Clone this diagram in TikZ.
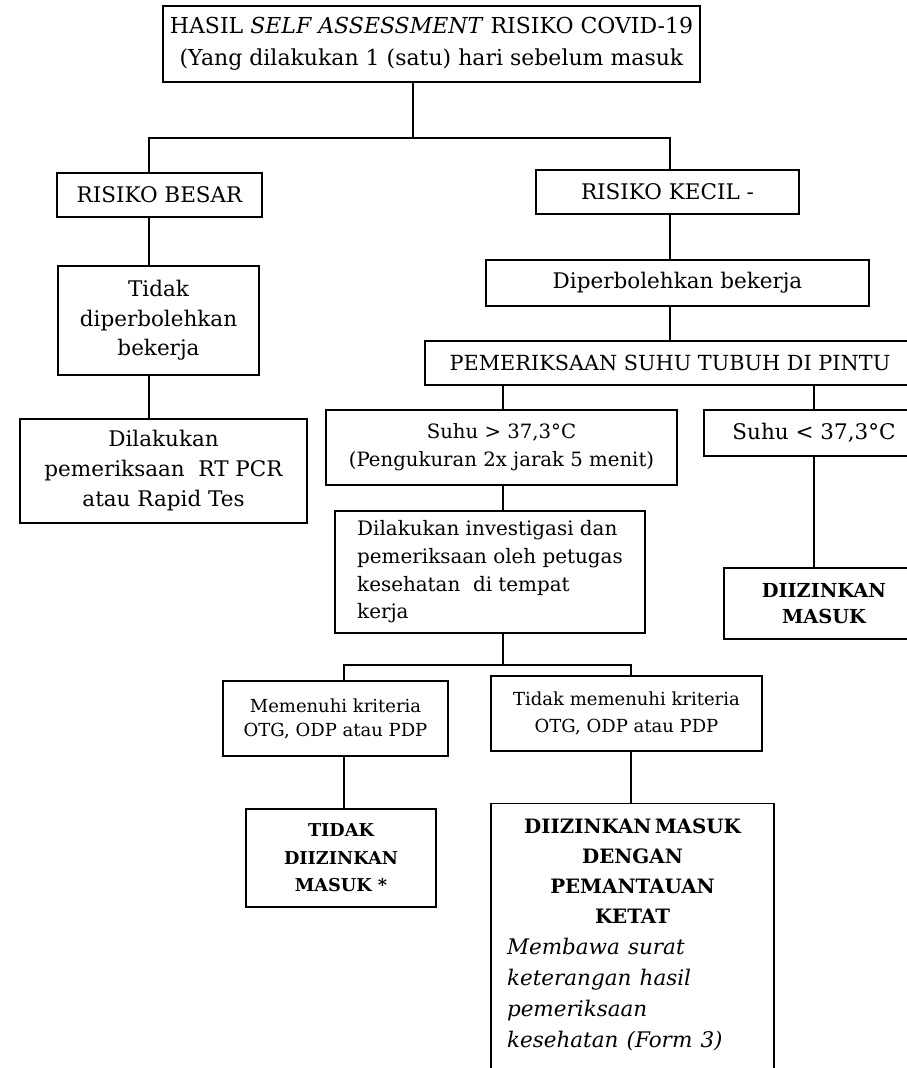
\documentclass[tikz,border=0pt]{standalone}
\usepackage{fontspec}
\setmainfont{DejaVu Serif}

\begin{document}
\begin{tikzpicture}[x=1pt, y=-1pt,
        box/.style={draw, line width=1.4pt, inner sep=0pt, align=center},
        link/.style={line width=1.3pt},
        bigtext/.style={font=\fontsize{21.5}{30}\selectfont},
        midtext/.style={font=\fontsize{19.7}{28}\selectfont},
        smalltext/.style={font=\fontsize{18}{24}\selectfont},
        boldtext/.style={font=\fontsize{17.7}{27.5}\selectfont\bfseries}
    ]

    \path[use as bounding box, clip] (0,0) rectangle (907,1068) ;

    % top of the tree
    \node[box, font=\fontsize{22}{32}\selectfont, minimum width=537pt, minimum height=76pt] (hasil) at (431.5,44)
        {HASIL \textit{SELF ASSESSMENT} RISIKO COVID-19\\(Yang dilakukan 1 (satu) hari sebelum masuk} ;
    \node[box, bigtext, minimum width=205pt, minimum height=44pt] (besar) at (159.5,195) {RISIKO BESAR} ;
    \node[box, bigtext, minimum width=263pt, minimum height=44pt] (kecil) at (667.5,192) {RISIKO KECIL -} ;

    % left branch
    \node[box, font=\fontsize{21.5}{29.5}\selectfont, minimum width=201pt, minimum height=109pt] (tidakkerja) at (158.5,320.5)
        {Tidak\\diperbolehkan\\bekerja} ;
    \node[box, bigtext, minimum width=287pt, minimum height=104pt] (rapid) at (163.5,471)
        {Dilakukan\\pemeriksaan\ \ RT PCR\\atau Rapid Tes} ;

    % right branch
    \node[box, bigtext, minimum width=383pt, minimum height=46pt] (boleh) at (677.5,283) {Diperbolehkan bekerja} ;
    \node[box, font=\fontsize{20.8}{30}\selectfont, minimum width=490pt, minimum height=44pt] (pintu) at (670,363) {PEMERIKSAAN SUHU TUBUH DI PINTU} ;
    \node[box, midtext, minimum width=351pt, minimum height=75pt] (suhutinggi) at (501.5,447.5)
        {Suhu > 37,3°C\\(Pengukuran 2x jarak 5 menit)} ;
    \node[box, bigtext, minimum width=220pt, minimum height=46pt] (suhurendah) at (814,433) {Suhu < 37,3°C} ;
    \node[box, font=\fontsize{19.9}{27.7}\selectfont, align=left, minimum width=310pt, minimum height=122pt] (investigasi) at (490,572)
        {Dilakukan investigasi dan\\pemeriksaan oleh petugas\\kesehatan\ \ di tempat\\kerja} ;
    \node[box, font=\fontsize{19.3}{26}\selectfont\bfseries, minimum width=200pt, minimum height=71pt] (masuk) at (824,603.5)
        {DIIZINKAN\\MASUK} ;
    \node[box, smalltext, minimum width=225pt, minimum height=75pt] (memenuhi) at (335.5,718.5)
        {Memenuhi kriteria\\OTG, ODP atau PDP} ;
    \node[box, font=\fontsize{18}{27}\selectfont, minimum width=271pt, minimum height=75pt] (tidakmemenuhi) at (626.5,713.5)
        {Tidak memenuhi kriteria\\OTG, ODP atau PDP} ;
    \node[box, boldtext, minimum width=190pt, minimum height=98pt] (tolak) at (341,858)
        {TIDAK\\DIIZINKAN\\MASUK *} ;
    \node[box, anchor=north, align=left, text width=251pt, inner xsep=16pt, inner ysep=15pt, minimum width=283pt] (pantau) at (632.5,803)
        {{\fontsize{19.8}{30}\selectfont\bfseries\centering DIIZINKAN MASUK\\DENGAN\\PEMANTAUAN\\KETAT\par}
         {\fontsize{21.5}{31}\selectfont\itshape\spaceskip=0.38em Membawa surat\\keterangan hasil\\pemeriksaan\\kesehatan (Form 3)\par}
         \rule{0pt}{90pt}} ;

    % connectors
    \coordinate (j1) at (413,138) ;
    \coordinate (jl) at (149,138) ;
    \coordinate (jr) at (670,138) ;
    \coordinate (j2) at (503,665) ;
    \coordinate (jm) at (344,665) ;
    \coordinate (jt) at (631,665) ;

    \draw[link] (hasil.south -| j1) -- (j1) ;
    \draw[link] (besar.north -| jl) -- (jl) -- (jr) -- (kecil.north -| jr) ;
    \draw[link] (besar.south -| jl) -- (tidakkerja.north -| jl) ;
    \draw[link] (tidakkerja.south -| jl) -- (rapid.north -| jl) ;
    \draw[link] (kecil.south -| jr) -- (boleh.north -| jr) ;
    \draw[link] (boleh.south -| jr) -- (pintu.north -| jr) ;
    \draw[link] (pintu.south -| j2) -- (suhutinggi.north -| j2) ;
    \draw[link] (pintu.south -| suhurendah.north) -- (suhurendah.north) ;
    \draw[link] (suhurendah.south) -- (masuk.north -| suhurendah.south) ;
    \draw[link] (suhutinggi.south -| j2) -- (investigasi.north -| j2) ;
    \draw[link] (investigasi.south -| j2) -- (j2) ;
    \draw[link] (memenuhi.north -| jm) -- (jm) -- (jt) -- (tidakmemenuhi.north -| jt) ;
    \draw[link] (memenuhi.south -| jm) -- (tolak.north -| jm) ;
    \draw[link] (tidakmemenuhi.south -| jt) -- (pantau.north -| jt) ;

\end{tikzpicture}
\end{document}
